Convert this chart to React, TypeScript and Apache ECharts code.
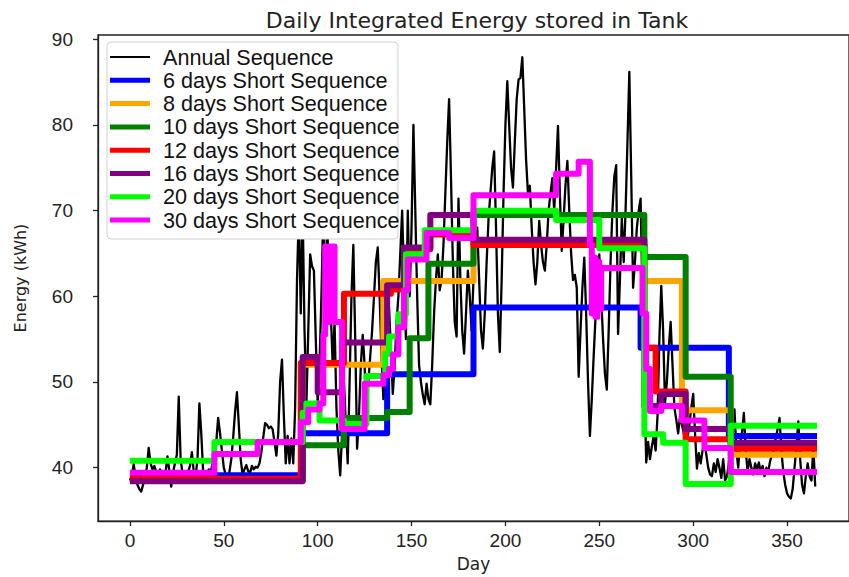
import { useEffect, useRef } from "react";
import * as echarts from "echarts";

// Daily integrated energy of the annual simulation, day 0 .. 365 (kWh)
const annualEnergy: number[] = [
  38.5, 39.0, 40.4, 39.0, 38.0, 37.5, 37.2, 38.0, 39.0, 40.0,
  42.3, 40.5, 39.8, 40.2, 39.5, 39.2, 39.8, 39.5, 38.8, 39.5,
  41.3, 39.6, 37.8, 39.5, 40.5, 41.5, 48.3, 41.0, 39.4, 39.0,
  38.8, 39.5, 40.2, 41.8, 39.5, 39.0, 41.0, 47.5, 44.0, 39.5,
  38.8, 39.2, 39.8, 39.4, 40.5, 41.0, 43.0, 45.8, 44.0, 42.0,
  40.0, 39.2, 39.0, 39.5, 41.0, 43.5, 46.5, 48.8, 45.0, 41.0,
  39.2, 39.8, 40.3, 39.6, 39.4, 40.2, 39.8, 40.1, 40.0, 40.5,
  41.8, 43.5, 45.2, 45.0, 44.6, 44.8, 44.5, 43.0, 41.4, 44.0,
  50.0, 52.6, 46.0, 40.5, 43.7, 40.5, 43.4, 40.5, 47.0, 62.0,
  70.0, 58.0, 70.0, 56.0, 47.5, 56.0, 64.9, 63.5, 63.0, 55.0,
  47.5, 52.0, 60.0, 70.0, 56.0, 69.0, 62.0, 58.0, 52.0, 57.0,
  47.0, 42.0, 39.1, 44.0, 50.0, 45.0, 40.5, 50.0, 60.0, 66.0,
  55.0, 42.2, 46.0, 52.0, 55.5, 52.0, 46.0, 50.0, 53.0, 56.0,
  60.0, 64.0, 65.7, 60.0, 53.0, 48.0, 50.0, 55.0, 58.7, 54.0,
  48.6, 52.0, 57.0, 60.0, 65.0, 70.0, 62.0, 55.0, 70.0, 60.0,
  68.0, 80.0, 70.0, 60.0, 52.0, 50.0, 48.5, 47.4, 49.8, 48.0,
  47.4, 52.0, 58.0, 62.0, 64.9, 60.7, 62.0, 66.0, 72.0, 78.0,
  83.0, 74.0, 64.0, 57.0, 55.3, 71.4, 62.0, 56.0, 53.3, 58.0,
  63.0, 60.0, 56.0, 62.0, 66.0, 68.0, 62.0, 56.0, 53.9, 58.0,
  64.0, 69.0, 72.0, 75.0, 76.9, 68.0, 58.0, 53.5, 62.0, 72.0,
  80.0, 85.1, 80.0, 75.0, 72.7, 78.0, 83.0, 85.3, 85.5, 87.9,
  82.0, 76.0, 72.0, 72.9, 68.0, 64.0, 61.4, 64.0, 68.8, 66.0,
  64.0, 63.0, 66.0, 70.0, 72.0, 73.8, 70.0, 75.0, 79.9, 72.0,
  65.3, 69.0, 73.0, 75.8, 70.0, 65.0, 61.9, 62.5, 61.0, 50.6,
  56.0, 61.0, 64.5, 58.0, 50.0, 43.7, 48.0, 53.0, 57.6, 62.0,
  64.9, 60.0, 55.0, 51.0, 49.1, 56.0, 64.0, 70.0, 74.0, 75.3,
  55.6, 62.0, 69.1, 64.0, 70.0, 78.0, 86.2, 74.0, 61.0, 64.0,
  68.0, 70.0, 71.4, 60.0, 50.0, 40.6, 43.0, 41.0, 42.5, 43.7,
  42.0, 46.0, 55.0, 61.2, 56.0, 47.5, 50.0, 54.0, 57.0, 52.0,
  47.0, 45.6, 44.0, 46.0, 45.0, 44.0, 42.0, 43.5, 45.0, 47.0,
  48.6, 44.0, 39.9, 41.7, 40.5, 42.0, 43.0, 41.5, 40.0, 39.2,
  39.0, 40.5, 39.5, 41.0, 40.0, 38.8, 41.0, 38.5, 39.0, 40.5,
  43.0, 45.0, 46.8, 42.0, 40.0, 43.0, 44.0, 46.4, 42.0, 39.5,
  41.0, 40.0, 39.2, 40.5, 39.8, 40.6, 39.4, 40.2, 39.0, 40.0,
  39.5, 40.8, 41.5, 42.0, 43.5, 44.5, 45.8, 42.0, 39.5, 38.0,
  37.0, 36.6, 36.4, 37.5, 40.0, 42.5, 45.4, 41.0, 38.0, 37.0,
  39.0, 40.5, 39.0, 38.5, 42.5, 37.8,
];

// Short sequences: [first day of the block, energy held for the block]
const seq6: [number, number][] = [
  [0, 39.1], [92, 44.0], [137, 50.9], [183, 58.7], [272, 54.0], [319, 43.7],
];
const seq8: [number, number][] = [
  [0, 38.6], [92, 52.0], [135, 61.8], [183, 66.3], [274, 61.8], [294, 46.7], [320, 41.5],
];
const seq10: [number, number][] = [
  [0, 38.5], [92, 42.6], [114, 45.8], [137, 46.5], [149, 55.1], [159, 63.8],
  [183, 69.5], [274, 64.6], [296, 50.6], [320, 42.6],
];
const seq12: [number, number][] = [
  [0, 38.7], [91, 52.2], [114, 60.3], [139, 60.8], [147, 65.5], [160, 67.2],
  [183, 66.0], [274, 54.0], [280, 48.9], [296, 43.3], [320, 42.2],
];
const seq16: [number, number][] = [
  [0, 38.4], [92, 52.9], [100, 48.8], [113, 54.6], [137, 61.3], [146, 65.7],
  [160, 69.5], [183, 66.6], [274, 47.2], [283, 48.6], [296, 44.5], [320, 42.9],
];
const seq20: [number, number][] = [
  [0, 40.8], [45, 43.0], [92, 46.4], [94, 47.5], [101, 45.5], [114, 45.1],
  [126, 50.7], [136, 53.3], [138, 55.3], [143, 57.9], [147, 64.9], [157, 67.7],
  [183, 70.0], [227, 68.9], [250, 65.6], [274, 43.9], [284, 42.9], [296, 38.1],
  [320, 44.9],
];
const seq30: [number, number][] = [
  [0, 39.4], [45, 41.6], [68, 43.0], [91, 45.3], [95, 46.8], [101, 47.5],
  [103, 55.5], [104, 65.8], [105, 57.0], [106, 65.8], [107, 60.0], [108, 65.8],
  [109, 57.0], [113, 44.5], [125, 49.8], [135, 50.8], [138, 51.5], [140, 53.2],
  [143, 56.4], [146, 60.7], [148, 64.3], [158, 67.4], [170, 66.8], [183, 71.8],
  [227, 74.3], [239, 75.7], [245, 66.0], [246, 58.0], [247, 64.5], [248, 57.6],
  [249, 64.0], [250, 58.5], [251, 63.3], [273, 58.0], [275, 51.5], [277, 46.6],
  [283, 47.2], [294, 45.5], [306, 42.3], [320, 39.5],
];

const lastDay = 366;

const seriesNames = [
  "Annual Sequence",
  "6 days Short Sequence",
  "8 days Short Sequence",
  "10 days Short Sequence",
  "12 days Short Sequence",
  "16 days Short Sequence",
  "20 days Short Sequence",
  "30 days Short Sequence",
];
const stepSets = [seq6, seq8, seq10, seq12, seq16, seq20, seq30];
const colors = ["#000000", "#0000ff", "#ffa500", "#008000", "#ff0000", "#800080", "#00ff00", "#ff00ff"];

const dayTicks = [0, 50, 100, 150, 200, 250, 300, 350];
const energyTicks = [40, 50, 60, 70, 80, 90];

const SANS = '"Liberation Sans", Arial, sans-serif';
const DEJAVU = '"DejaVu Sans", sans-serif';

function stepData(steps: [number, number][]): [number, number][] {
  const pts = steps.map(([d, v]) => [d, v] as [number, number]);
  pts.push([lastDay, steps[steps.length - 1][1]]);
  return pts;
}

export default function App() {
  const ref = useRef<HTMLDivElement>(null);

  useEffect(() => {
    document.body.style.margin = "0";
    if (!ref.current) return;
    const chart = echarts.init(ref.current, undefined, { renderer: "svg" });

    const series: any[] = [
      {
        name: seriesNames[0],
        type: "line",
        data: annualEnergy.map((v, i) => [i, v]),
        showSymbol: false,
        symbol: "none",
        lineStyle: { color: colors[0], width: 2.3, join: "round" },
        z: 2,
      },
      ...stepSets.map((steps, k) => ({
        name: seriesNames[k + 1],
        type: "line",
        step: "end",
        data: stepData(steps),
        showSymbol: false,
        symbol: "none",
        lineStyle: { color: colors[k + 1], width: 6, join: "round", cap: "butt" },
        z: 3 + k,
      })),
    ];

    // legend box drawn in the upper-left corner of the plot, above every line
    const legendItems: any[] = [
      {
        type: "rect",
        z: 100,
        zlevel: 1,
        shape: { x: 107, y: 42, width: 291, height: 197, r: 4 },
        style: { fill: "#ffffff", stroke: "#d0d0d0", lineWidth: 1 },
      },
    ];
    seriesNames.forEach((name, i) => {
      const ly = 57 + i * 23.3;
      legendItems.push({
        type: "line",
        z: 101,
        zlevel: 1,
        shape: { x1: 110, y1: ly, x2: 150, y2: ly },
        style: { stroke: colors[i], lineWidth: i === 0 ? 2 : 5 },
      });
      legendItems.push({
        type: "text",
        z: 101,
        zlevel: 1,
        x: 163,
        y: ly,
        style: {
          text: name,
          font: `21.6px ${SANS}`,
          fill: "#111111",
          verticalAlign: "middle",
          align: "left",
        },
      });
    });

    chart.setOption({
      animation: false,
      backgroundColor: "#ffffff",
      grid: {
        left: 98,
        right: -10,
        top: 35,
        bottom: 51,
        show: true,
        borderColor: "#222222",
        borderWidth: 1.3,
        backgroundColor: "transparent",
      },
      xAxis: {
        type: "value",
        min: -17,
        max: 383,
        name: "Day",
        nameLocation: "middle",
        nameGap: 30,
        nameTextStyle: { fontFamily: DEJAVU, fontSize: 17, color: "#222222" },
        axisLine: { show: true, onZero: false, lineStyle: { color: "#222222", width: 1.3 } },
        axisTick: {
          show: true,
          inside: false,
          length: 5,
          customValues: dayTicks,
          lineStyle: { color: "#222222", width: 1.3 },
        },
        axisLabel: {
          customValues: dayTicks,
          margin: 10,
          fontFamily: SANS,
          fontSize: 19,
          color: "#222222",
        },
        splitLine: { show: false },
      },
      yAxis: {
        type: "value",
        min: 33.76,
        max: 90.5,
        name: "Energy (kWh)",
        nameLocation: "middle",
        nameGap: 70,
        nameTextStyle: { fontFamily: DEJAVU, fontSize: 16, color: "#222222" },
        axisLine: { show: true, onZero: false, lineStyle: { color: "#222222", width: 1.3 } },
        axisTick: {
          show: true,
          inside: false,
          length: 5,
          customValues: energyTicks,
          lineStyle: { color: "#222222", width: 1.3 },
        },
        axisLabel: {
          customValues: energyTicks,
          margin: 25,
          fontFamily: SANS,
          fontSize: 19,
          color: "#222222",
        },
        splitLine: { show: false },
      },
      graphic: [
        {
          type: "text",
          x: 477,
          y: 20,
          z: 100,
          style: {
            text: "Daily Integrated Energy stored in Tank",
            font: `22px ${DEJAVU}`,
            fill: "#222222",
            align: "center",
            verticalAlign: "middle",
          },
        },
        ...legendItems,
      ],
      series,
    });

    return () => chart.dispose();
  }, []);

  return <div ref={ref} style={{ width: 849, height: 577 }} />;
}
